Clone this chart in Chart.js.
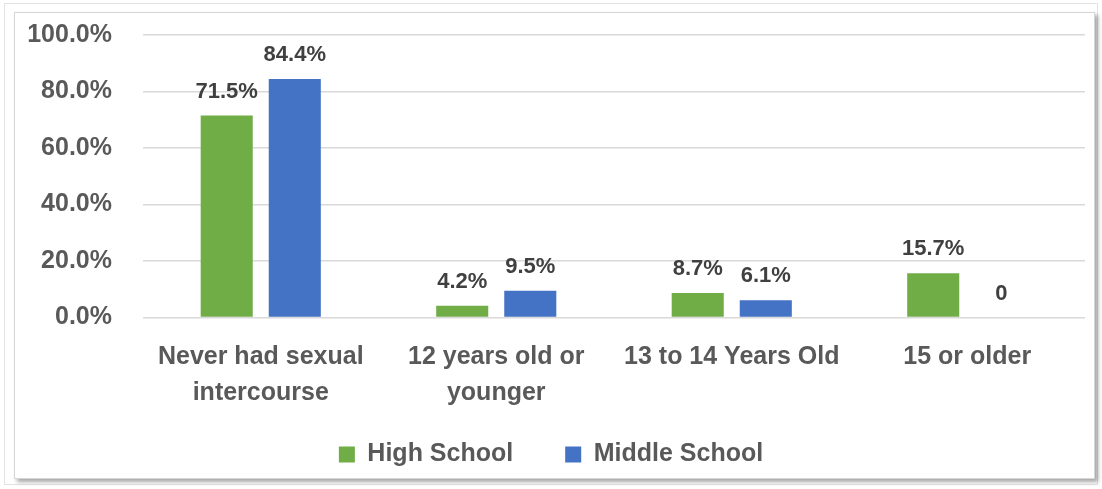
<!DOCTYPE html>
<html><head><meta charset="utf-8">
<script src="https://cdn.jsdelivr.net/npm/chart.js@4"></script>
<style>
html,body{margin:0;padding:0;background:#fff;width:1102px;height:489px;overflow:hidden;}
#outer{position:absolute;left:4px;top:3px;width:1094px;height:482px;border:1px solid #e3e3e3;box-sizing:border-box;}
#frame{position:absolute;left:14px;top:12px;width:1081px;height:467px;border:1px solid #d6d6d6;box-sizing:border-box;background:#fff;box-shadow:3px 3px 4px rgba(0,0,0,0.35);}
#wrap{position:absolute;left:0;top:0;width:1102px;height:489px;}
</style></head>
<body>
<div id="outer"></div>
<div id="frame"></div>
<div id="wrap"><canvas id="c" width="1102" height="489"></canvas></div>
<script>
const categories = [["Never had sexual","intercourse"],["12 years old or","younger"],"13 to 14 Years Old","15 or older"];
const highSchool = [71.5, 4.2, 8.7, 15.7];
const middleSchool = [84.4, 9.5, 6.1, 0];
const highLabels = ["71.5%","4.2%","8.7%","15.7%"];
const middleLabels = ["84.4%","9.5%","6.1%","0"];
const yTicks = [0,20,40,60,80,100];

const FONT = "'Liberation Sans', Arial, sans-serif";
const FS = 25;
const LEGEND_GAP = 52;
const LEGEND_TEXT_Y = 454.5;
const LEGEND_FIT_H = 55;

const labelPlugin = {
  id:'vlabels',
  afterDatasetsDraw(chart){
    const ctx = chart.ctx;
    ctx.save();
    ctx.font = "bold 22px " + FONT;
    ctx.fillStyle = "#404040";
    ctx.textAlign = "center";
    ctx.textBaseline = "alphabetic";
    const lbls = [highLabels, middleLabels];
    chart.data.datasets.forEach((ds,i)=>{
      chart.getDatasetMeta(i).data.forEach((bar,j)=>{
        ctx.fillText(lbls[i][j], bar.x, bar.y - 18);
      });
    });
    ctx.restore();
  }
};

const legendPlace = {
  id:'legendPlace',
  beforeLayout(chart){
    const lg = chart.legend;
    if (lg && !lg._patched){
      lg._patched = true;
      const origFit = lg.fit;
      lg.fit = function(){ origFit.call(this); this.height = LEGEND_FIT_H; };
    }
  },
  afterLayout(chart){
    const lg = chart.legend;
    if (lg){
      lg.top = LEGEND_TEXT_Y - LEGEND_GAP - FS/2;
      lg.bottom = chart.height;
      lg.height = lg.bottom - lg.top;
      lg.left = 0; lg.right = chart.width; lg.width = chart.width;
    }
  }
};

new Chart(document.getElementById('c'), {
  type:'bar',
  data:{
    labels: categories,
    datasets:[
      {label:'High School', data: highSchool, backgroundColor:'#70AD47', categoryPercentage:0.578, barPercentage:0.765},
      {label:'Middle School', data: middleSchool, backgroundColor:'#4472C4', categoryPercentage:0.578, barPercentage:0.765}
    ]
  },
  options:{
    responsive:false,
    animation:false,
    layout:{padding:{top:0,right:17,left:0,bottom:10}},
    plugins:{
      legend:{
        position:'bottom',
        labels:{font:{family:FONT,size:FS,weight:'bold'},color:'#595959',boxWidth:16,boxHeight:16,padding:LEGEND_GAP}
      },
      tooltip:{enabled:false}
    },
    scales:{
      x:{
        grid:{display:false},
        border:{display:false},
        ticks:{font:{family:FONT,size:FS,weight:'bold',lineHeight:1.45},color:'#595959',padding:13,maxRotation:0,autoSkip:false}
      },
      y:{
        min:0,max:100,
        afterFit(s){ s.width = 143; },
        afterBuildTicks(s){ s.ticks = yTicks.map(v=>({value:v})); },
        grid:{color:'#d9d9d9',lineWidth:1.5,drawTicks:true,tickLength:11,tickColor:'rgba(0,0,0,0)'},
        border:{display:false},
        ticks:{font:{family:FONT,size:FS,weight:'bold'},color:'#595959',padding:20,callback:v=>v.toFixed(1)+'%'}
      }
    }
  },
  plugins:[labelPlugin, legendPlace]
});
</script>
</body></html>
